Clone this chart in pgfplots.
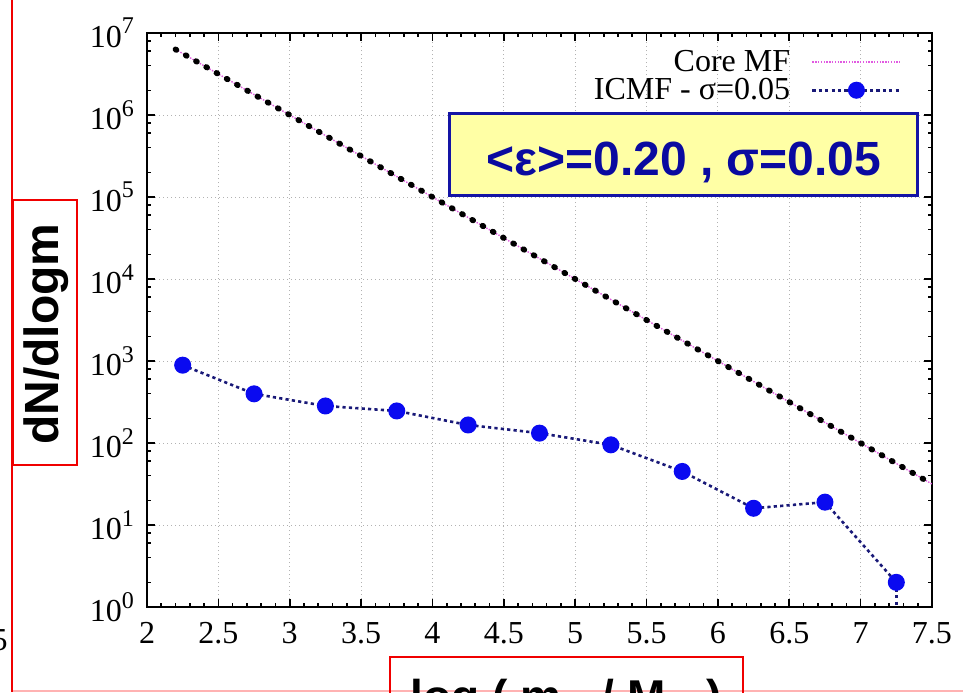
\documentclass[border=0pt]{standalone}
\usepackage{pgfplots}
\pgfplotsset{compat=1.18}
\usepackage{fontspec}
\setmainfont{Liberation Serif}
\newfontfamily\arial{Liberation Sans}
\definecolor{navyline}{RGB}{25,25,120}
\definecolor{markblue}{RGB}{10,10,240}
\definecolor{coremag}{RGB}{225,90,225}
\definecolor{boxfill}{RGB}{255,255,165}
\definecolor{boxblue}{RGB}{20,20,165}
\definecolor{textblue}{RGB}{10,10,160}
\definecolor{slidered}{RGB}{240,0,0}
\newcommand\tpow[1]{10\raisebox{0.42em}{\fontsize{12}{12}\selectfont #1}}
\pgfplotsset{
 coreleg/.style={legend image code/.code={\draw[##1] (0pt,0pt) -- (44pt,0pt);}},
 icmfleg/.style={legend image code/.code={\draw[mark repeat=2, mark phase=2, ##1] plot coordinates {(0pt,0pt) (22pt,0pt) (44pt,0pt)};}},
}
\begin{document}
\begin{tikzpicture}
\path[use as bounding box] (0,0) rectangle (481.5pt,-346pt);
\begin{axis}[
 at={(73.5pt,-303.5pt)}, anchor=south west,
 scale only axis, width=392.5pt, height=287pt,
 xmin=2, xmax=7.5, ymode=log, ymin=1, ymax=1e7,
 xtick={2,2.5,...,7.5}, minor x tick num=4,
 ytick={1,10,100,1000,10000,100000,1000000,10000000},
 yticklabels={\tpow{0},\tpow{1},\tpow{2},\tpow{3},\tpow{4},\tpow{5},\tpow{6},\tpow{7}},
 minor ytick={2,4,6,8,20,40,60,80,200,400,600,800,2000,4000,6000,8000,20000,40000,60000,80000,200000,400000,600000,800000,2000000,4000000,6000000,8000000},
 tick align=inside, major tick length=4pt, minor tick length=2pt,
 axis line style={line width=1pt},
 every tick/.style={black, line width=0.8pt},
 xmajorgrids, ymajorgrids, yminorgrids=false,
 major grid style={gray!60, line width=0.5pt, dash pattern=on 0.5pt off 1.5pt},
 tick label style={font=\fontsize{16}{18}\selectfont},
 /pgf/number format/assume math mode=true,
 xticklabel style={yshift=-4pt},
 yticklabel style={xshift=-3pt},
 legend plot pos=right,
 legend cell align=right,
 legend style={at={(0.962,0.973)}, anchor=north east, draw=none, fill=none,
   font=\fontsize{16}{18}\selectfont, row sep=1pt, column sep=10pt, inner sep=0pt,
   nodes={inner sep=0.5pt}},
]
\addplot[coremag, line width=0.7pt, dash pattern=on 0.7pt off 0.7pt, coreleg]
 coordinates {(2.2,6309573) (3,1000000) (4,100000) (5,10000) (6,1000) (7,100) (7.5,31.62)};
\addlegendentry{Core MF}
\addplot[black, line width=2.9pt, line cap=round, dash pattern=on 0.5pt off 5.4pt, forget plot]
 coordinates {(2.2,6309573) (3,1000000) (4,100000) (5,10000) (6,1000) (7,100) (7.5,31.62)};
\addplot[navyline, line width=1.3pt, dash pattern=on 1.6pt off 1.6pt, mark=*, mark size=3.6pt,
 mark options={solid, fill=markblue, draw=markblue}, icmfleg]
 coordinates {(2.25,890) (2.75,398) (3.25,283) (3.75,246) (4.25,166) (4.75,132) (5.25,95) (5.75,45) (6.25,16) (6.75,19) (7.25,2.0)};
\addlegendentry{ICMF - σ=0.05}
\addplot[navyline, line width=1.3pt, dash pattern=on 1.6pt off 1.6pt, forget plot]
 coordinates {(7.25,2.0) (7.25,0.5)};
\end{axis}
\begin{scope}[x=0.5pt,y=-0.5pt]
\clip (0,0) rectangle (963,692);
\draw[boxblue, line width=1.5pt, fill=boxfill] (449,113) rectangle (917,195);
\node[text=textblue, font=\arial\bfseries\fontsize{24}{26}\selectfont, anchor=base, inner sep=0pt] at (684,175) {<ε>=0.20 , σ=0.05};
\draw[slidered, line width=1pt] (12,0) -- (12,692);
\draw[slidered, line width=1pt] (13,200) rectangle (77,465);
\node[rotate=90, anchor=base, inner sep=0pt, font=\arial\bfseries\fontsize{24}{26}\selectfont] at (58,334) {dN/dlogm};
\draw[red!30, line width=0.8pt] (13,691) -- (963,691);
\draw[slidered, line width=1pt] (390,657) rectangle (743,702);
\node[anchor=base, inner sep=0pt, font=\arial\bfseries\fontsize{23}{25}\selectfont] at (566,712) {log ( m\textsubscript{cl} / M\textsubscript{$\odot$} )};
\node[anchor=base east, inner sep=0pt, font=\fontsize{16}{18}\selectfont] at (8,650) {5};
\end{scope}
\end{tikzpicture}
\end{document}
